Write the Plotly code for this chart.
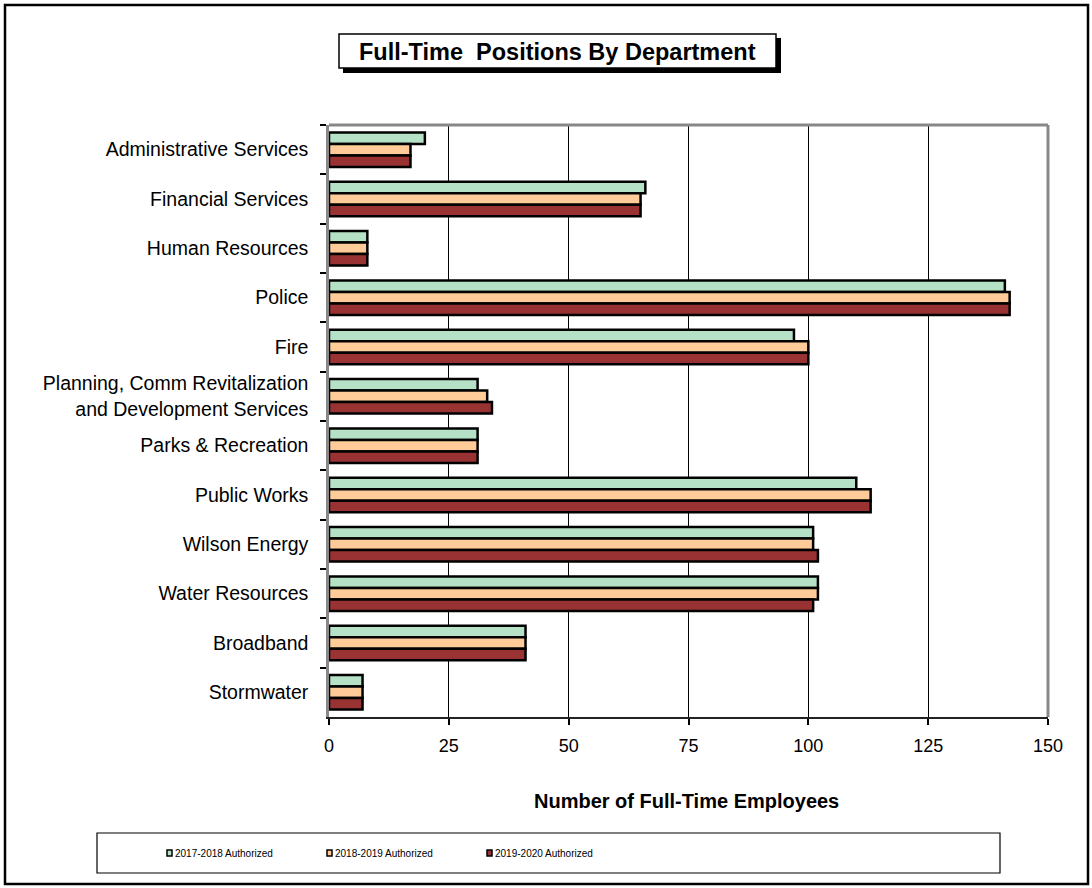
import plotly.graph_objects as go

# Departments, listed top to bottom
departments = [
    "Administrative Services",
    "Financial Services",
    "Human Resources",
    "Police",
    "Fire",
    "Planning, Comm Revitalization<br>and Development Services",
    "Parks & Recreation",
    "Public Works",
    "Wilson Energy",
    "Water Resources",
    "Broadband",
    "Stormwater",
]

series_names = ["2017-2018 Authorized", "2018-2019 Authorized", "2019-2020 Authorized"]

fy2018 = [20, 66, 8, 141, 97, 31, 31, 110, 101, 102, 41, 7]
fy2019 = [17, 65, 8, 142, 100, 33, 31, 113, 101, 102, 41, 7]
fy2020 = [17, 65, 8, 142, 100, 34, 31, 113, 102, 101, 41, 7]

x_ticks = [0, 25, 50, 75, 100, 125, 150]

series_values = [fy2018, fy2019, fy2020]
colors = ["#B5E1C7", "#FFCC99", "#993333"]

W, H = 1092, 888
L, R, T, B = 329, 1048, 125, 717  # plot area in pixels


def px(x):
    return (x - L) / (R - L)


def py(y):
    return (B - y) / (B - T)


fig = go.Figure()
for name, vals, col in zip(series_names, series_values, colors):
    fig.add_trace(go.Bar(
        y=departments, x=vals, name=name, orientation="h",
        marker=dict(color=col, line=dict(color="black", width=2.5)),
        showlegend=False,
    ))

font_family = "Liberation Sans, Arial, sans-serif"

shapes = []
annotations = []

# outer chart frame
shapes.append(dict(type="rect", xref="paper", yref="paper",
                   x0=px(5), x1=px(1088), y0=py(5), y1=py(884),
                   line=dict(color="black", width=2.5), layer="below"))

# plot area top/right border
shapes.append(dict(type="line", xref="paper", yref="paper",
                   x0=0, x1=1, y0=1, y1=1, line=dict(color="#888888", width=3)))
shapes.append(dict(type="line", xref="paper", yref="paper",
                   x0=1, x1=1, y0=0, y1=1, line=dict(color="#888888", width=3)))

# title box with drop shadow
shapes.append(dict(type="rect", xref="paper", yref="paper",
                   x0=px(343), x1=px(781), y0=py(38), y1=py(73),
                   fillcolor="black", line=dict(color="black", width=0)))
shapes.append(dict(type="rect", xref="paper", yref="paper",
                   x0=px(339), x1=px(776), y0=py(34), y1=py(68),
                   fillcolor="white", line=dict(color="black", width=1.5)))
annotations.append(dict(text="<b>Full-Time  Positions By Department</b>",
                        xref="paper", yref="paper", x=px(557.5), y=py(52),
                        showarrow=False, xanchor="center", yanchor="middle",
                        font=dict(family=font_family, size=23.5, color="black")))

# x-axis title
annotations.append(dict(text="<b>Number of Full-Time Employees</b>",
                        xref="paper", yref="paper", x=px(686), y=py(801),
                        showarrow=False, xanchor="center", yanchor="middle",
                        font=dict(family=font_family, size=20, color="black")))

# legend box and entries
shapes.append(dict(type="rect", xref="paper", yref="paper",
                   x0=px(97), x1=px(1000), y0=py(833), y1=py(873),
                   fillcolor="white", line=dict(color="black", width=1.2)))
legend_x = [167, 327, 487]
for lx, name, col in zip(legend_x, series_names, colors):
    shapes.append(dict(type="rect", xref="paper", yref="paper",
                       x0=px(lx), x1=px(lx + 5), y0=py(850), y1=py(856),
                       fillcolor=col, line=dict(color="black", width=1.5)))
    annotations.append(dict(text=name, xref="paper", yref="paper",
                            x=px(lx + 6), y=py(853.5), showarrow=False,
                            xanchor="left", yanchor="middle",
                            font=dict(family=font_family, size=10, color="black")))

fig.update_layout(
    width=W, height=H,
    margin=dict(l=L, r=W - R, t=T, b=H - B, pad=0),
    paper_bgcolor="white", plot_bgcolor="white",
    barmode="group", bargap=0.3, bargroupgap=0.0,
    shapes=shapes, annotations=annotations,
    font=dict(family=font_family, size=18, color="black"),
)

fig.update_xaxes(
    range=[0, 150], tickvals=x_ticks, ticktext=[str(v) for v in x_ticks],
    showgrid=True, gridcolor="black", gridwidth=1.2,
    showline=True, linecolor="#222222", linewidth=1.5,
    ticks="outside", ticklen=6, tickcolor="black", tickwidth=1.5,
    ticklabelstandoff=6,
    tickfont=dict(family=font_family, size=18, color="black"),
    zeroline=False, fixedrange=True,
)
fig.update_yaxes(
    autorange="reversed", tickson="boundaries",
    showgrid=False, showline=True, linecolor="#888888", linewidth=2.5,
    ticks="outside", ticklen=6, tickcolor="black", tickwidth=1.5,
    ticklabelstandoff=14,
    tickfont=dict(family=font_family, size=19.5, color="black"),
    fixedrange=True,
)

fig.write_html("out.html")
